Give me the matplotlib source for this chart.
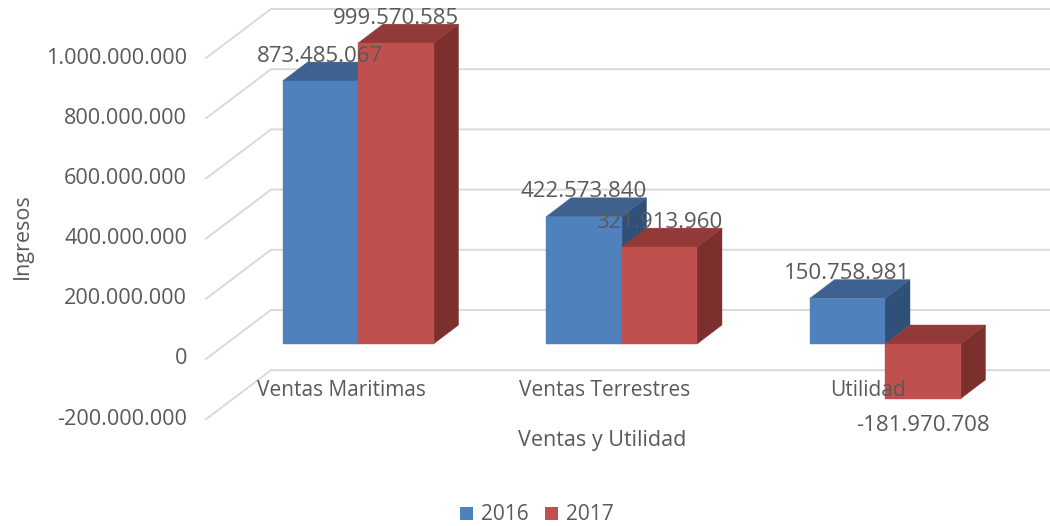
import matplotlib
matplotlib.use("Agg")
import matplotlib.pyplot as plt
from matplotlib.patches import Patch

plt.rcParams['font.family'] = ['Open Sans', 'DejaVu Sans']

categories = ["Ventas Maritimas", "Ventas Terrestres", "Utilidad"]
years = ["2016", "2017"]
values_2016 = [873485067, 422573840, 150758981]
values_2017 = [999570585, 321913960, -181970708]
y_ticks = [-200000000, 0, 200000000, 400000000, 600000000, 800000000, 1000000000]

# scale of the fake 3D box, in figure pixels
W, H = 1050, 526
ZERO_Y = 344          # pixel row of value 0 on the bars' front face
PX_PER_UNIT = 0.301e-6
CAT_STEP = 263.5      # pixels between categories
CAT0_X = 358          # pixel column of first category centre
BAR_W = 75.5 / CAT_STEP
DEPTH_X = 25 / CAT_STEP
DEPTH_Y = 19 / PX_PER_UNIT

# gridline ends relative to the bars' plane
FRONT_X = (206 - CAT0_X) / CAT_STEP
BACK_X = (271 - CAT0_X) / CAT_STEP
RIGHT_X = (W - CAT0_X) / CAT_STEP
FRONT_DY = -15 / PX_PER_UNIT
BACK_DY = 34 / PX_PER_UNIT


def px_x(dx):
    return dx / CAT_STEP


def px_y(dy):
    return dy / PX_PER_UNIT


def fmt(v):
    return f"{v:,}".replace(",", ".")


def draw_bar(ax, left, val, front, top, side, z):
    right = left + BAR_W
    # side first, then top, then front so the faces overlap properly
    ax.fill([right, right + DEPTH_X, right + DEPTH_X, right],
            [0, DEPTH_Y, val + DEPTH_Y, val], color=side, lw=0.3, zorder=z)
    upper = max(val, 0)
    ax.fill([left, right, right + DEPTH_X, left + DEPTH_X],
            [upper, upper, upper + DEPTH_Y, upper + DEPTH_Y], color=top, lw=0.3, zorder=z)
    ax.fill([left, right, right, left], [0, 0, val, val], color=front, lw=0.3, zorder=z)


fig = plt.figure(figsize=(W / 100, H / 100), dpi=100)
ax = fig.add_axes([0, 0, 1, 1])
ax.set_xlim(-CAT0_X / CAT_STEP, (W - CAT0_X) / CAT_STEP)
ax.set_ylim((ZERO_Y - H) / PX_PER_UNIT, ZERO_Y / PX_PER_UNIT)
ax.axis("off")

text_color = "#595959"
grid_color = "#D9D9D9"

for t in y_ticks:
    ax.plot([FRONT_X, BACK_X, RIGHT_X], [t + FRONT_DY, t + BACK_DY, t + BACK_DY],
            color=grid_color, lw=1.4, zorder=1, solid_joinstyle="miter")
    ax.text(px_x(187 - CAT0_X), t + FRONT_DY, fmt(t), ha="right", va="center",
            fontsize=15.6, color=text_color, zorder=6)

for i in range(len(categories)):
    draw_bar(ax, i - BAR_W, values_2016[i], "#4F81BD", "#3E6290", "#2F5079", 2 + i * 0.1)
    draw_bar(ax, i, values_2017[i], "#C0504D", "#913A38", "#7B302E", 3 + i * 0.1)

for i in range(len(categories)):
    ax.text(i - BAR_W / 2, values_2016[i] + px_y(25), fmt(values_2016[i]),
            ha="center", va="center", fontsize=16, color=text_color, zorder=7)
    off = px_y(25) if values_2017[i] > 0 else px_y(-27)
    ax.text(i + BAR_W / 2, values_2017[i] + off, fmt(values_2017[i]),
            ha="center", va="center", fontsize=16, color=text_color, zorder=7)
    ax.text(i + px_x(-17), px_y(-46), categories[i], ha="center", va="center",
            fontsize=15, color=text_color, zorder=6)

ax.text(px_x(602 - CAT0_X), px_y(ZERO_Y - 441), "Ventas y Utilidad", ha="center", va="center",
        fontsize=15.5, color=text_color)
ax.text(px_x(22 - CAT0_X), px_y(ZERO_Y - 236), "Ingresos", ha="center", va="center",
        rotation=90, fontsize=15.5, color=text_color)

handles = [Patch(facecolor="#4F81BD", label=years[0]), Patch(facecolor="#C0504D", label=years[1])]
ax.legend(handles=handles, loc="center", bbox_to_anchor=(537 / W, 1 - 515 / H), frameon=False,
          ncol=2, fontsize=15, labelcolor=text_color, handlelength=0.6, handleheight=0.6,
          handletextpad=0.4, columnspacing=0.8, borderpad=0, borderaxespad=0)

fig.savefig("out.png", dpi=100)
